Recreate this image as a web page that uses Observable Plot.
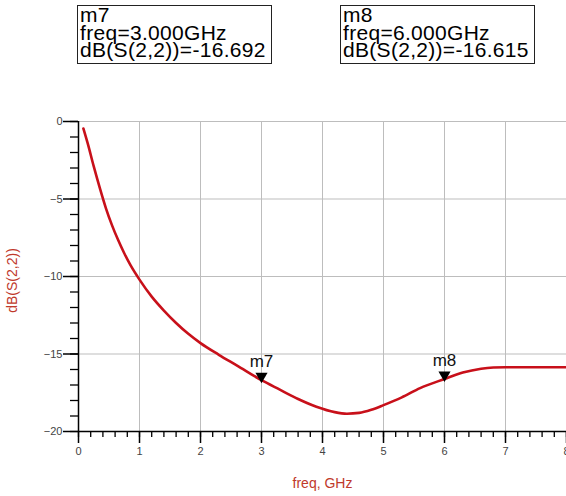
<!DOCTYPE html>
<html>
<head>
<meta charset="utf-8">
<script src="https://cdn.jsdelivr.net/npm/d3@7"></script>
<script src="https://cdn.jsdelivr.net/npm/@observablehq/plot@0.6"></script>
<style>
  html, body { margin: 0; padding: 0; background: #fff; overflow: hidden; }
  #wrap { position: relative; width: 566px; height: 496px; font-family: "Liberation Sans", Arial, sans-serif; }
  #wrap svg { position: absolute; left: 0; top: 0; }
  .mbox { position: absolute; border: 1.5px solid #222; background: #fff; color: #000;
          font-size: 21px; letter-spacing: 0.3px; line-height: 17.5px; padding: 0 2px 0 2px; white-space: pre; box-sizing: border-box; }
</style>
</head>
<body>
<div id="wrap"></div>
<script>
// ---- data ----
const freq = [0.08, 0.15, 0.25, 0.35, 0.45, 0.55, 0.65, 0.75, 0.85, 1.0, 1.2, 1.4, 1.6, 1.8, 2.0, 2.3, 2.6, 3.0, 3.3, 3.6, 3.9, 4.2, 4.4, 4.6, 4.8, 5.0, 5.3, 5.6, 6.0, 6.3, 6.6, 6.8, 7.0, 7.5, 8.0];
const dbS22 = [-0.45, -1.4, -2.9, -4.3, -5.6, -6.7, -7.65, -8.5, -9.25, -10.2, -11.3, -12.2, -13.0, -13.7, -14.3, -15.05, -15.75, -16.692, -17.3, -17.9, -18.4, -18.75, -18.85, -18.8, -18.6, -18.3, -17.8, -17.2, -16.615, -16.2, -15.95, -15.87, -15.85, -15.85, -15.85];
const markerNames = ["m7", "m8"];
const markerFreq = [3.0, 6.0];
const markerDb = [-16.692, -16.615];
const xTicks = [0, 1, 2, 3, 4, 5, 6, 7, 8];
const xMinorTicks = d3.range(0, 8.01, 0.2).map(v => +v.toFixed(1));
const yTicks = [0, -5, -10, -15, -20];
const yMinorTicks = d3.range(-20, 1, 1);
const xLabel = "freq, GHz";
const yLabel = "dB(S(2,2))";

const curve = freq.map((f, i) => ({f, v: dbS22[i]}));
const markers = markerNames.map((n, i) => ({n, f: markerFreq[i], v: markerDb[i]}));

const red = "#c0392b";
const chart = Plot.plot({
  width: 566,
  height: 496,
  marginTop: 121,
  marginBottom: 65,
  marginLeft: 78,
  marginRight: 0,
  style: {fontFamily: "'Liberation Sans', Arial, sans-serif", background: "#fff"},
  x: {domain: [0, 8]},
  y: {domain: [-20, 0]},
  marks: [
    Plot.gridX({ticks: xTicks.slice(1), stroke: "#bdbdbd", strokeOpacity: 1, strokeWidth: 1}),
    Plot.gridY({ticks: yTicks.slice(0, 4), stroke: "#bdbdbd", strokeOpacity: 1, strokeWidth: 1}),
    Plot.axisX({ticks: xMinorTicks, tickSize: 6, tickFormat: () => "", stroke: "#000", strokeWidth: 1.3, label: null}),
    Plot.axisX({ticks: xTicks, tickSize: 12, tickPadding: 4, fontSize: 11, fill: "#444", stroke: "#000", strokeWidth: 1.5, label: null}),
    Plot.axisY({ticks: yMinorTicks, tickSize: 8, tickFormat: () => "", stroke: "#000", strokeWidth: 1.3, label: null}),
    Plot.axisY({ticks: yTicks, tickSize: 15, tickPadding: 1, fontSize: 11, fill: "#444", stroke: "#000", strokeWidth: 1.5, label: null}),
    Plot.ruleX([0], {stroke: "#000", strokeWidth: 1.5}),
    Plot.ruleY([-20], {stroke: "#000", strokeWidth: 1.5}),
    Plot.line(curve, {x: "f", y: "v", stroke: "#c8101a", strokeWidth: 2.6, curve: "monotone-x"}),
    Plot.dot(markers, {x: "f", y: "v", symbol: "triangle", rotate: 180, r: 4.5, fill: "#000", stroke: "none", dy: -4}),
    Plot.text(markers, {x: "f", y: "v", text: "n", dy: -13, lineAnchor: "bottom", fontSize: 17, fill: "#111"}),
    Plot.text([xLabel], {frameAnchor: "bottom", textAnchor: "middle", dy: 56, fontSize: 14, fill: red}),
    Plot.text([yLabel], {frameAnchor: "left", textAnchor: "middle", rotate: -90, dx: -66, dy: 4, fontSize: 14, fill: red})
  ]
});
const wrap = document.getElementById("wrap");
wrap.appendChild(chart);

const boxPos = [{left: 77, top: 5, width: 195, height: 59}, {left: 340, top: 5, width: 195, height: 59}];
markers.forEach((m, i) => {
  const d = document.createElement("div");
  d.className = "mbox";
  const p = boxPos[i];
  Object.assign(d.style, {left: p.left + "px", top: p.top + "px", width: p.width + "px", height: p.height + "px"});
  d.textContent = `${m.n}\nfreq=${m.f.toFixed(3)}GHz\ndB(S(2,2))=${m.v.toFixed(3)}`;
  wrap.appendChild(d);
});
</script>
</body>
</html>
